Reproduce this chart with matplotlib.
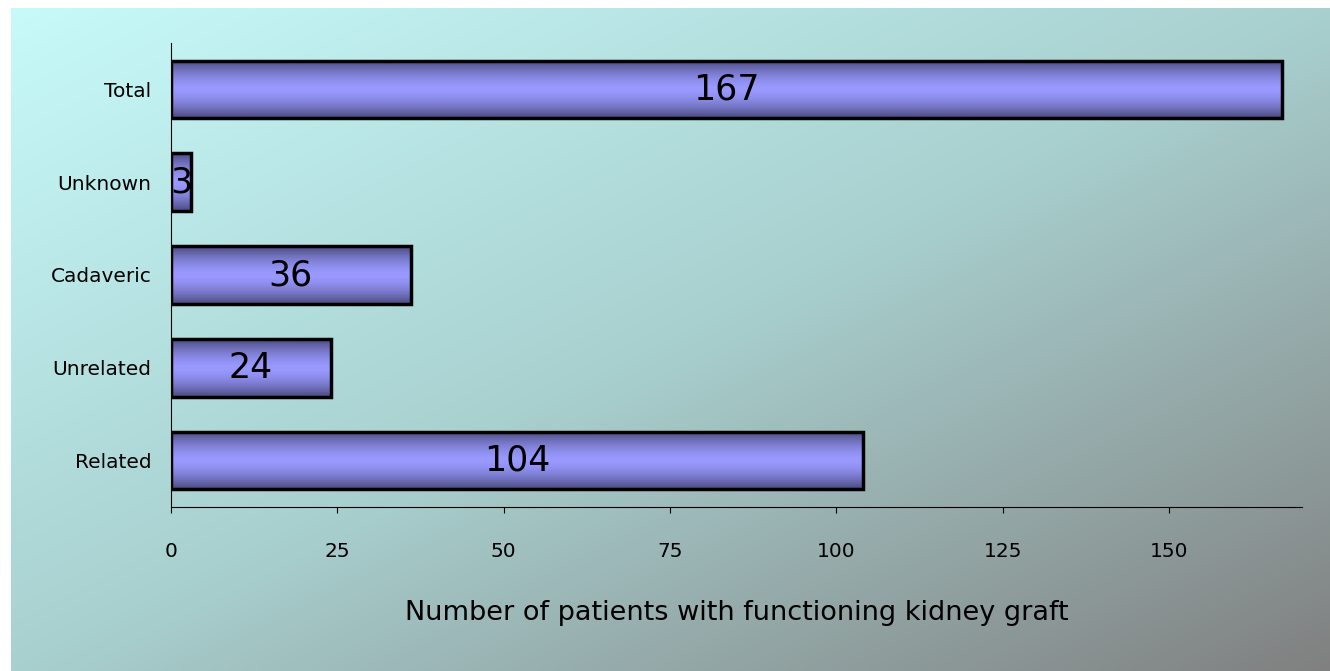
import numpy as np
import matplotlib
matplotlib.use("Agg")
import matplotlib.pyplot as plt

# chart data
categories = ["Related", "Unrelated", "Cadaveric", "Unknown", "Total"]
patients = [104, 24, 36, 3, 167]
x_ticks = [0, 25, 50, 75, 100, 125, 150]

W, H = 1330, 671
fig = plt.figure(figsize=(W / 100, H / 100), dpi=100)
fig.patch.set_facecolor("white")

# diagonal background gradient (light cyan -> grey), three stops
bg = fig.add_axes([11 / W, 0, 1 - 11 / W, (H - 8) / H], zorder=-1)
gx, gy = np.meshgrid(np.linspace(0, 1, 300), np.linspace(0, 1, 150))
t = (gx + gy) / 2
stops_t = [0.0, 0.5, 1.0]
stops_c = np.array([[200, 250, 250], [168, 208, 207], [128, 128, 128]]) / 255
img = np.stack([np.interp(t, stops_t, stops_c[:, k]) for k in range(3)], axis=-1)
bg.imshow(img, aspect="auto", extent=(0, 1, 1, 0), interpolation="bilinear")
bg.set_axis_off()

ax = fig.add_axes([171 / W, (H - 507) / H, (1302 - 171) / W, (507 - 43) / H])
ax.set_facecolor("none")

y = np.arange(len(categories))
bh = 0.62
bars = ax.barh(y, patients, height=bh, facecolor="none", edgecolor="black",
               linewidth=2.5, zorder=3)

# vertical shading inside each bar
shade = np.abs(np.linspace(-1, 1, 64)) ** 1.6
dark = np.array([75, 75, 128]) / 255
light = np.array([153, 153, 255]) / 255
grad = light[None, :] * (1 - shade[:, None]) + dark[None, :] * shade[:, None]
grad = grad[:, None, :]
for b in bars:
    x0, y0 = b.get_x(), b.get_y()
    ax.imshow(grad, aspect="auto", extent=(x0, x0 + b.get_width(), y0, y0 + b.get_height()),
              zorder=2, interpolation="bilinear")

for yi, v in zip(y, patients):
    ax.text(v / 2, yi, str(v), ha="center", va="center", fontsize=25, zorder=4)

ax.set_xlim(0, 170)
ax.set_ylim(-0.5, 4.5)
ax.set_yticks(y)
ax.set_yticklabels(categories)
ax.set_xticks(x_ticks)
ax.tick_params(axis="y", length=0, pad=14, labelsize=14.5)
ax.tick_params(axis="x", direction="out", length=4, pad=21, labelsize=14.5)
for s in ["top", "right"]:
    ax.spines[s].set_visible(False)
ax.spines["left"].set_color("black")
ax.spines["bottom"].set_color("black")
ax.set_xlabel("Number of patients with functioning kidney graft", fontsize=19.5, labelpad=28)

fig.savefig("out.png", dpi=100)
